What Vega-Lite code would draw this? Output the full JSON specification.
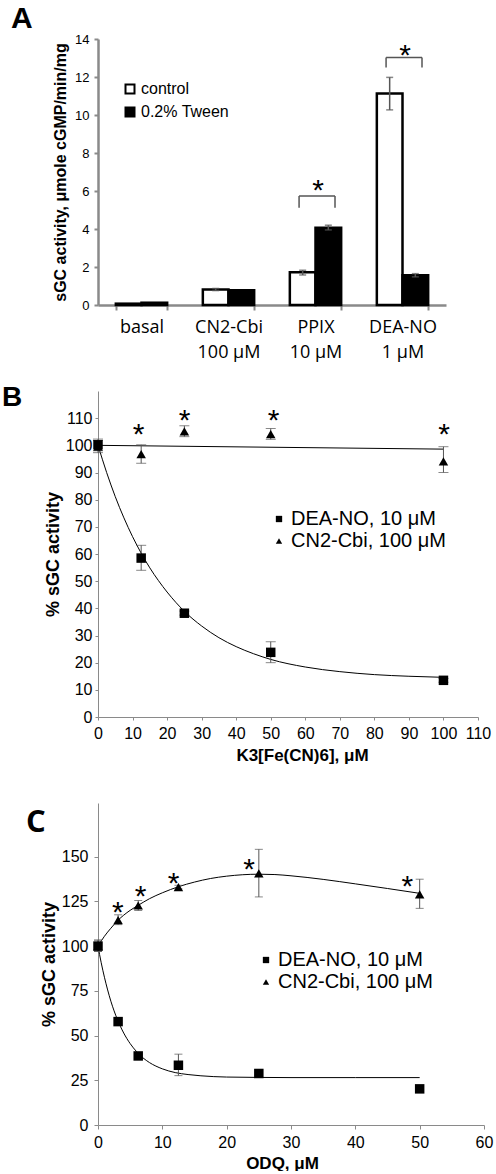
{
  "$schema": "https://vega.github.io/schema/vega-lite/v6.json",
  "padding": {"left": 2, "top": 4, "right": 2, "bottom": 0},
  "background": "white",
  "config": {
    "view": {"stroke": null},
    "font": "Liberation Sans",
    "axis": {"grid": false, "domainColor": "#8a8a8a", "tickColor": "#8a8a8a", "labelColor": "black", "titleColor": "black", "labelFont": "Liberation Sans", "titleFont": "Liberation Sans", "labelOverlap": false},
    "title": {"color": "black"}
  },
  "bounds": "flush",
  "spacing": 86,
  "resolve": {"scale": {"fill": "independent", "shape": "independent"}, "legend": {"fill": "independent", "shape": "independent"}},
  "datasets": {
    "aBars": [
      {"cat": "basal", "grp": "control", "v": 0.07},
      {"cat": "basal", "grp": "0.2% Tween", "v": 0.12},
      {"cat": "CN2-Cbi|100 μM", "grp": "control", "v": 0.82, "lo": 0.76, "hi": 0.87},
      {"cat": "CN2-Cbi|100 μM", "grp": "0.2% Tween", "v": 0.77},
      {"cat": "PPIX|10 μM", "grp": "control", "v": 1.72, "lo": 1.58, "hi": 1.83},
      {"cat": "PPIX|10 μM", "grp": "0.2% Tween", "v": 4.07, "lo": 3.95, "hi": 4.2},
      {"cat": "DEA-NO|1 μM", "grp": "control", "v": 11.13, "lo": 10.27, "hi": 11.98},
      {"cat": "DEA-NO|1 μM", "grp": "0.2% Tween", "v": 1.56, "lo": 1.48, "hi": 1.65}
    ],
    "aSig": [
      {"cat": "PPIX|10 μM", "by": 5.74, "leg": 5.12, "star": 6.44},
      {"cat": "DEA-NO|1 μM", "by": 13.03, "leg": 12.5, "star": 13.55}
    ],
    "bPts": [
      {"x": 0, "y": 99.5, "lo": 97.3, "hi": 101.8, "s": "CN2-Cbi, 100 μM"},
      {"x": 12.5, "y": 96.8, "lo": 93.4, "hi": 100.2, "s": "CN2-Cbi, 100 μM"},
      {"x": 25, "y": 105.1, "lo": 103.2, "hi": 107.2, "s": "CN2-Cbi, 100 μM"},
      {"x": 50, "y": 104.1, "lo": 102.2, "hi": 106.2, "s": "CN2-Cbi, 100 μM"},
      {"x": 100, "y": 94.1, "lo": 90.0, "hi": 99.5, "s": "CN2-Cbi, 100 μM"},
      {"x": 0, "y": 100.2, "lo": 98.0, "hi": 102.3, "s": "DEA-NO, 10 μM"},
      {"x": 12.5, "y": 58.5, "lo": 54.0, "hi": 63.2, "s": "DEA-NO, 10 μM"},
      {"x": 25, "y": 38.2, "lo": 37.5, "hi": 39.0, "s": "DEA-NO, 10 μM"},
      {"x": 50, "y": 23.8, "lo": 20.0, "hi": 27.7, "s": "DEA-NO, 10 μM"},
      {"x": 100, "y": 13.5, "lo": 12.8, "hi": 14.2, "s": "DEA-NO, 10 μM"}
    ],
    "bCurve": [
      {"s": "CN2-Cbi", "x": 0, "y": 100},
      {"s": "CN2-Cbi", "x": 100, "y": 98.6},
      {"s": "DEA-NO", "x": 0, "y": 100},
      {"s": "DEA-NO", "x": 2.5, "y": 90.0},
      {"s": "DEA-NO", "x": 5, "y": 81.1},
      {"s": "DEA-NO", "x": 7.5, "y": 73.3},
      {"s": "DEA-NO", "x": 10, "y": 66.4},
      {"s": "DEA-NO", "x": 12.5, "y": 60.3},
      {"s": "DEA-NO", "x": 15, "y": 54.9},
      {"s": "DEA-NO", "x": 17.5, "y": 50.2},
      {"s": "DEA-NO", "x": 20, "y": 46.0},
      {"s": "DEA-NO", "x": 25, "y": 38.9},
      {"s": "DEA-NO", "x": 30, "y": 33.5},
      {"s": "DEA-NO", "x": 35, "y": 29.2},
      {"s": "DEA-NO", "x": 40, "y": 25.9},
      {"s": "DEA-NO", "x": 45, "y": 23.3},
      {"s": "DEA-NO", "x": 50, "y": 21.2},
      {"s": "DEA-NO", "x": 60, "y": 18.4},
      {"s": "DEA-NO", "x": 70, "y": 16.7},
      {"s": "DEA-NO", "x": 80, "y": 15.6},
      {"s": "DEA-NO", "x": 90, "y": 15.0},
      {"s": "DEA-NO", "x": 100, "y": 14.6}
    ],
    "bStar": [
      {"x": 11.75, "y": 106.9},
      {"x": 25.1, "y": 111.8},
      {"x": 50.8, "y": 111.8},
      {"x": 100.2, "y": 106.8}
    ],
    "cPts": [
      {"x": 0, "y": 100, "lo": 97, "hi": 103.5, "s": "CN2-Cbi, 100 μM"},
      {"x": 3.125, "y": 114.5, "lo": 112, "hi": 117.5, "s": "CN2-Cbi, 100 μM"},
      {"x": 6.25, "y": 122.7, "lo": 119.9, "hi": 125.5, "s": "CN2-Cbi, 100 μM"},
      {"x": 12.5, "y": 133, "lo": 132, "hi": 134, "s": "CN2-Cbi, 100 μM"},
      {"x": 25, "y": 140.6, "lo": 127.5, "hi": 154.1, "s": "CN2-Cbi, 100 μM"},
      {"x": 50, "y": 128.9, "lo": 121.1, "hi": 137.4, "s": "CN2-Cbi, 100 μM"},
      {"x": 0, "y": 100, "lo": 97, "hi": 103, "s": "DEA-NO, 10 μM"},
      {"x": 3.125, "y": 57.8, "lo": 57, "hi": 58.6, "s": "DEA-NO, 10 μM"},
      {"x": 6.25, "y": 38.6, "lo": 37.8, "hi": 39.4, "s": "DEA-NO, 10 μM"},
      {"x": 12.5, "y": 33.4, "lo": 27.6, "hi": 39.6, "s": "DEA-NO, 10 μM"},
      {"x": 25, "y": 28.8, "lo": 28, "hi": 29.6, "s": "DEA-NO, 10 μM"},
      {"x": 50, "y": 20.2, "lo": 19.5, "hi": 21, "s": "DEA-NO, 10 μM"}
    ],
    "cCurve": [
      {"s": "CN2-Cbi", "x": 0, "y": 100},
      {"s": "CN2-Cbi", "x": 1, "y": 105.5},
      {"s": "CN2-Cbi", "x": 2, "y": 110},
      {"s": "CN2-Cbi", "x": 3.125, "y": 114.5},
      {"s": "CN2-Cbi", "x": 4, "y": 117.3},
      {"s": "CN2-Cbi", "x": 5, "y": 120},
      {"s": "CN2-Cbi", "x": 6.25, "y": 122.8},
      {"s": "CN2-Cbi", "x": 8, "y": 126.5},
      {"s": "CN2-Cbi", "x": 10, "y": 129.8},
      {"s": "CN2-Cbi", "x": 12.5, "y": 133.2},
      {"s": "CN2-Cbi", "x": 15, "y": 135.8},
      {"s": "CN2-Cbi", "x": 17.5, "y": 137.8},
      {"s": "CN2-Cbi", "x": 20, "y": 139.1},
      {"s": "CN2-Cbi", "x": 22.5, "y": 139.9},
      {"s": "CN2-Cbi", "x": 25, "y": 140.2},
      {"s": "CN2-Cbi", "x": 27.5, "y": 140.0},
      {"s": "CN2-Cbi", "x": 30, "y": 139.3},
      {"s": "CN2-Cbi", "x": 35, "y": 137.3},
      {"s": "CN2-Cbi", "x": 40, "y": 134.8},
      {"s": "CN2-Cbi", "x": 45, "y": 132.2},
      {"s": "CN2-Cbi", "x": 50, "y": 129.5},
      {"s": "DEA-NO", "x": 0, "y": 100},
      {"s": "DEA-NO", "x": 0.5, "y": 90.7},
      {"s": "DEA-NO", "x": 1, "y": 82.6},
      {"s": "DEA-NO", "x": 1.5, "y": 75.5},
      {"s": "DEA-NO", "x": 2, "y": 69.2},
      {"s": "DEA-NO", "x": 2.5, "y": 63.8},
      {"s": "DEA-NO", "x": 3, "y": 59.1},
      {"s": "DEA-NO", "x": 4, "y": 51.4},
      {"s": "DEA-NO", "x": 5, "y": 45.5},
      {"s": "DEA-NO", "x": 6, "y": 41.0},
      {"s": "DEA-NO", "x": 7, "y": 37.5},
      {"s": "DEA-NO", "x": 8, "y": 34.9},
      {"s": "DEA-NO", "x": 10, "y": 31.4},
      {"s": "DEA-NO", "x": 12, "y": 29.3},
      {"s": "DEA-NO", "x": 14, "y": 28.2},
      {"s": "DEA-NO", "x": 16, "y": 27.5},
      {"s": "DEA-NO", "x": 20, "y": 26.8},
      {"s": "DEA-NO", "x": 25, "y": 26.6},
      {"s": "DEA-NO", "x": 30, "y": 26.5},
      {"s": "DEA-NO", "x": 40, "y": 26.5},
      {"s": "DEA-NO", "x": 50, "y": 26.5}
    ],
    "cStar": [
      {"x": 3.1, "y": 123.0},
      {"x": 6.63, "y": 132.2},
      {"x": 11.74, "y": 139.0},
      {"x": 23.5, "y": 147.1},
      {"x": 48.1, "y": 137.3}
    ]
  },
  "vconcat": [
    {
      "width": 348,
      "height": 266,
      "title": {"text": "A", "anchor": "start", "frame": "group", "fontSize": 30, "fontWeight": "bold", "font": "Liberation Sans", "dx": -87, "offset": -25, "baseline": "alphabetic"},
      "layer": [
        {
          "data": {"name": "aBars"},
          "mark": {"type": "bar", "stroke": "black", "strokeWidth": 2.5},
          "encoding": {
            "x": {"field": "cat", "type": "nominal", "title": null,
              "scale": {"domain": ["basal", "CN2-Cbi|100 μM", "PPIX|10 μM", "DEA-NO|1 μM"], "paddingInner": 0.41, "paddingOuter": 0.205},
              "axis": {"labelExpr": "isValid(datum.value) ? split(datum.value, '|') : ''", "labelAngle": 0, "labelFont": "Open Sans", "labelFontSize": 18, "labelLineHeight": 25, "labelPadding": 8, "tickBand": "extent", "tickSize": 5, "tickWidth": 2, "domainWidth": 2.5}},
            "xOffset": {"field": "grp", "type": "nominal", "scale": {"domain": ["control", "0.2% Tween"]}},
            "y": {"field": "v", "type": "quantitative", "title": "sGC activity, μmole cGMP/min/mg",
              "scale": {"domain": [0, 14]},
              "axis": {"values": [0, 2, 4, 6, 8, 10, 12, 14], "tickCount": 30, "format": "d", "labelOverlap": false, "labelFontSize": 13, "labelPadding": 5, "tickSize": 4, "tickWidth": 2, "domainWidth": 2.5, "titleFontSize": 16, "titleFontWeight": "bold", "titlePadding": 6}},
            "fill": {"field": "grp", "type": "nominal",
              "scale": {"domain": ["control", "0.2% Tween"], "range": ["white", "black"]},
              "legend": {"orient": "none", "legendX": 24, "legendY": 42, "title": null, "symbolType": "square", "symbolSize": 81, "symbolStrokeColor": "black", "symbolStrokeWidth": 2, "labelFontSize": 16, "labelOffset": 3, "rowPadding": 5, "labelColor": "black", "labelExpr": "datum.label == '0.2% Tween' ? ' 0.2% Tween' : datum.label"}}
          }
        },
        {
          "data": {"name": "aBars"},
          "transform": [{"filter": "isValid(datum.lo)"}],
          "mark": {"type": "rule", "color": "#555555", "strokeWidth": 1.5},
          "encoding": {
            "x": {"field": "cat", "type": "nominal"},
            "xOffset": {"field": "grp", "type": "nominal"},
            "y": {"field": "lo", "type": "quantitative"},
            "y2": {"field": "hi"}
          }
        },
        {
          "data": {"name": "aBars"},
          "transform": [{"filter": "isValid(datum.lo)"}],
          "mark": {"type": "tick", "color": "#555555", "thickness": 1.5, "size": 7},
          "encoding": {
            "x": {"field": "cat", "type": "nominal"},
            "xOffset": {"field": "grp", "type": "nominal"},
            "y": {"field": "lo", "type": "quantitative"}
          }
        },
        {
          "data": {"name": "aBars"},
          "transform": [{"filter": "isValid(datum.lo)"}],
          "mark": {"type": "tick", "color": "#555555", "thickness": 1.5, "size": 7},
          "encoding": {
            "x": {"field": "cat", "type": "nominal"},
            "xOffset": {"field": "grp", "type": "nominal"},
            "y": {"field": "hi", "type": "quantitative"}
          }
        },
        {
          "data": {"name": "aSig"},
          "mark": {"type": "rule", "color": "#555555", "strokeWidth": 1.5},
          "encoding": {
            "x": {"field": "cat", "type": "nominal", "bandPosition": 0.18},
            "x2": {"field": "cat", "bandPosition": 0.88},
            "y": {"field": "by", "type": "quantitative"}
          }
        },
        {
          "data": {"name": "aSig"},
          "mark": {"type": "rule", "color": "#555555", "strokeWidth": 1.5},
          "encoding": {
            "x": {"field": "cat", "type": "nominal", "bandPosition": 0.18},
            "y": {"field": "leg", "type": "quantitative"},
            "y2": {"field": "by"}
          }
        },
        {
          "data": {"name": "aSig"},
          "mark": {"type": "rule", "color": "#555555", "strokeWidth": 1.5},
          "encoding": {
            "x": {"field": "cat", "type": "nominal", "bandPosition": 0.88},
            "y": {"field": "leg", "type": "quantitative"},
            "y2": {"field": "by"}
          }
        },
        {
          "data": {"name": "aSig"},
          "mark": {"type": "text", "text": "*", "fontSize": 30, "baseline": "alphabetic", "dy": 17, "color": "black"},
          "encoding": {
            "x": {"field": "cat", "type": "nominal", "bandPosition": 0.55},
            "y": {"field": "star", "type": "quantitative"}
          }
        }
      ]
    },
    {
      "width": 380,
      "height": 326,
      "title": {"text": "B", "anchor": "start", "frame": "group", "fontSize": 28, "fontWeight": "bold", "font": "Liberation Sans", "dx": -96, "dy": 43, "offset": 0, "baseline": "alphabetic"},
      "layer": [
        {
          "data": {"name": "bCurve"},
          "mark": {"type": "line", "color": "black", "strokeWidth": 1, "interpolate": "monotone"},
          "encoding": {
            "x": {"field": "x", "type": "quantitative", "title": "K3[Fe(CN)6], μM",
              "scale": {"domain": [0, 110]},
              "axis": {"values": [0, 10, 20, 30, 40, 50, 60, 70, 80, 90, 100, 110], "tickCount": 30, "format": "d", "labelOverlap": false, "labelFontSize": 16, "labelPadding": 5, "tickSize": 3, "titleFontSize": 17, "titleFontWeight": "bold", "titlePadding": 6, "titleX": 204, "titleAlign": "center", "labelFlush": false}},
            "y": {"field": "y", "type": "quantitative", "title": "% sGC activity",
              "scale": {"domain": [0, 120]},
              "axis": {"values": [0, 10, 20, 30, 40, 50, 60, 70, 80, 90, 100, 110], "tickCount": 30, "format": "d", "labelOverlap": false, "labelFontSize": 16, "labelPadding": 3, "tickSize": 3, "titleFontSize": 18, "titleFontWeight": "bold", "titlePadding": 3}},
            "detail": {"field": "s", "type": "nominal"}
          }
        },
        {
          "data": {"name": "bPts"},
          "mark": {"type": "rule", "color": "#555555", "strokeWidth": 1},
          "encoding": {
            "x": {"field": "x", "type": "quantitative"},
            "y": {"field": "lo", "type": "quantitative"},
            "y2": {"field": "hi"}
          }
        },
        {
          "data": {"name": "bPts"},
          "mark": {"type": "tick", "orient": "horizontal", "color": "#555555", "thickness": 1, "size": 10},
          "encoding": {
            "x": {"field": "x", "type": "quantitative"},
            "y": {"field": "lo", "type": "quantitative"}
          }
        },
        {
          "data": {"name": "bPts"},
          "mark": {"type": "tick", "orient": "horizontal", "color": "#555555", "thickness": 1, "size": 10},
          "encoding": {
            "x": {"field": "x", "type": "quantitative"},
            "y": {"field": "hi", "type": "quantitative"}
          }
        },
        {
          "data": {"name": "bPts"},
          "mark": {"type": "point", "filled": true, "color": "black", "opacity": 1, "size": 90},
          "encoding": {
            "x": {"field": "x", "type": "quantitative"},
            "y": {"field": "y", "type": "quantitative"},
            "shape": {"field": "s", "type": "nominal",
              "scale": {"domain": ["DEA-NO, 10 μM", "CN2-Cbi, 100 μM"], "range": ["square", "triangle-up"]},
              "legend": {"orient": "none", "legendX": 171, "legendY": 118, "title": null, "symbolSize": 40, "symbolFillColor": "black", "symbolStrokeColor": "black", "symbolStrokeWidth": 0, "labelFontSize": 20, "labelOffset": 2, "rowPadding": 2, "labelColor": "black"}}
          }
        },
        {
          "data": {"name": "bStar"},
          "mark": {"type": "text", "text": "*", "fontSize": 30, "baseline": "alphabetic", "dy": 17, "color": "black"},
          "encoding": {
            "x": {"field": "x", "type": "quantitative"},
            "y": {"field": "y", "type": "quantitative"}
          }
        }
      ]
    },
    {
      "width": 386,
      "height": 322,
      "title": {"text": "C", "anchor": "start", "frame": "group", "fontSize": 31, "fontWeight": "bold", "font": "Open Sans", "dx": -72, "dy": 60, "offset": 0, "baseline": "alphabetic"},
      "layer": [
        {
          "data": {"name": "cCurve"},
          "mark": {"type": "line", "color": "black", "strokeWidth": 1, "interpolate": "monotone"},
          "encoding": {
            "x": {"field": "x", "type": "quantitative", "title": "ODQ, μM",
              "scale": {"domain": [0, 60]},
              "axis": {"values": [0, 10, 20, 30, 40, 50, 60], "tickCount": 30, "format": "d", "labelOverlap": false, "labelFontSize": 16, "labelPadding": 5, "tickSize": 4, "titleFontSize": 17, "titleFontWeight": "bold", "titlePadding": 5, "titleX": 184, "titleAlign": "center", "labelFlush": false}},
            "y": {"field": "y", "type": "quantitative", "title": "% sGC activity",
              "scale": {"domain": [0, 175]},
              "axis": {"values": [0, 25, 50, 75, 100, 125, 150], "tickCount": 30, "format": "d", "labelOverlap": false, "labelFontSize": 16, "labelPadding": 6, "tickSize": 4, "titleFontSize": 18, "titleFontWeight": "bold", "titlePadding": 3}},
            "detail": {"field": "s", "type": "nominal"}
          }
        },
        {
          "data": {"name": "cPts"},
          "mark": {"type": "rule", "color": "#555555", "strokeWidth": 1},
          "encoding": {
            "x": {"field": "x", "type": "quantitative"},
            "y": {"field": "lo", "type": "quantitative"},
            "y2": {"field": "hi"}
          }
        },
        {
          "data": {"name": "cPts"},
          "mark": {"type": "tick", "orient": "horizontal", "color": "#555555", "thickness": 1, "size": 8},
          "encoding": {
            "x": {"field": "x", "type": "quantitative"},
            "y": {"field": "lo", "type": "quantitative"}
          }
        },
        {
          "data": {"name": "cPts"},
          "mark": {"type": "tick", "orient": "horizontal", "color": "#555555", "thickness": 1, "size": 8},
          "encoding": {
            "x": {"field": "x", "type": "quantitative"},
            "y": {"field": "hi", "type": "quantitative"}
          }
        },
        {
          "data": {"name": "cPts"},
          "mark": {"type": "point", "filled": true, "color": "black", "opacity": 1, "size": 90},
          "encoding": {
            "x": {"field": "x", "type": "quantitative"},
            "y": {"field": "y", "type": "quantitative"},
            "shape": {"field": "s", "type": "nominal",
              "scale": {"domain": ["DEA-NO, 10 μM", "CN2-Cbi, 100 μM"], "range": ["square", "triangle-up"]},
              "legend": {"orient": "none", "legendX": 158, "legendY": 147, "title": null, "symbolSize": 40, "symbolFillColor": "black", "symbolStrokeColor": "black", "symbolStrokeWidth": 0, "labelFontSize": 20, "labelOffset": 2, "rowPadding": 2, "labelColor": "black"}}
          }
        },
        {
          "data": {"name": "cStar"},
          "mark": {"type": "text", "text": "*", "fontSize": 30, "baseline": "alphabetic", "dy": 17, "color": "black"},
          "encoding": {
            "x": {"field": "x", "type": "quantitative"},
            "y": {"field": "y", "type": "quantitative"}
          }
        }
      ]
    }
  ]
}
